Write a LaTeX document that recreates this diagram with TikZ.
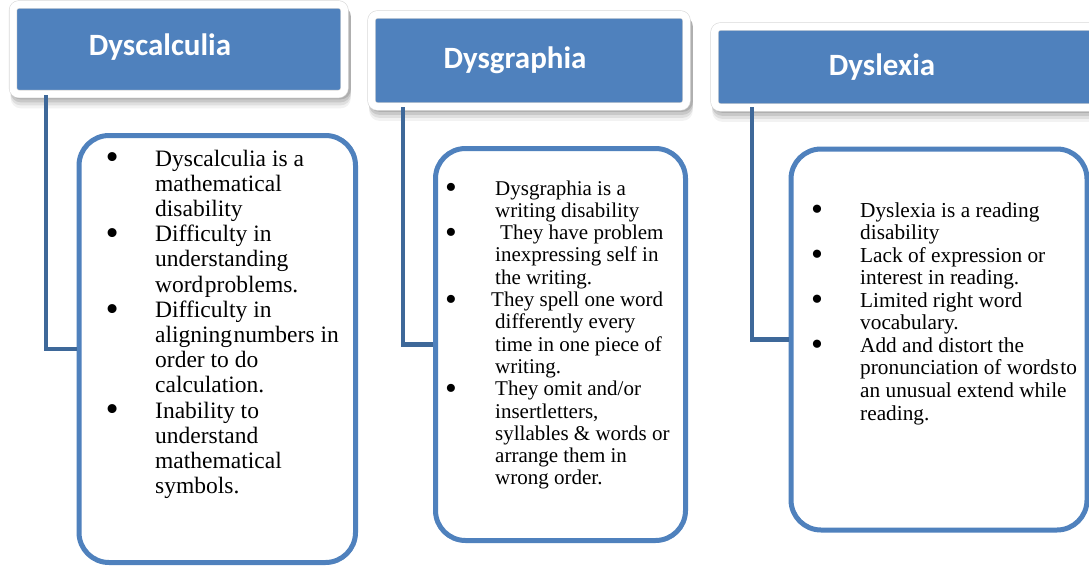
\documentclass[tikz,border=0pt]{standalone}
\usepackage{fontspec}
\setmainfont{Liberation Serif}
\newfontfamily\hdfont{Carlito}
\usetikzlibrary{calc}
\definecolor{hblue}{HTML}{4F81BD}
\definecolor{bblue}{HTML}{4F81BD}
\definecolor{cblue}{HTML}{3E6899}
\newcommand\mybul[1]{\makebox[#1][l]{\hspace{-2.5pt}\raisebox{-0.17em}{\scalebox{1.6}{•}}}}
\pgfdeclarelayer{bgfill}
\pgfdeclarelayer{shadowlayer}
\pgfsetlayers{bgfill,shadowlayer,main}
\begin{document}
\begin{tikzpicture}[x=1pt,y=-1pt,
 hdr/.style={fill=hblue, draw=black!15, line width=0.6pt, double=white, double distance=7pt,
   rounded corners=6pt, inner sep=0pt},
 shd/.style={fill=black, opacity=#1, rounded corners=10pt},
 htext/.style={text=white, font=\hdfont\bfseries\fontsize{31}{36}\selectfont, anchor=base, inner sep=0pt},
 ibox/.style={draw=bblue, line width=5pt, fill=white, rounded corners=30pt, inner sep=0pt},
 conn/.style={draw=cblue, line width=4.5pt},
 ltext/.style={anchor=base west, inner sep=0pt}]
\useasboundingbox (0,0) rectangle (1089,565);
\clip (0,0) rectangle (1089,565);
\begin{pgfonlayer}{bgfill}
\fill[white] (0,0) rectangle (1089,565);
\end{pgfonlayer}

% headers
\node[hdr, minimum width=331.5pt, minimum height=89.5pt] (h1) at (178.75,49.25) {};
\node[hdr, minimum width=315pt, minimum height=92pt] (h2) at (529,60.5) {};
\node[hdr, minimum width=390.5pt, minimum height=81pt] (h3) at (909.75,67) {};
\node[htext] (t1) at (160,55) {Dyscalculia};
\node[htext] (t2) at (515,68) {Dysgraphia};
\node[htext] (t3) at (882,75) {Dyslexia};

% soft shadows under the header frames
\begin{pgfonlayer}{shadowlayer}
\foreach \h in {h1,h2,h3}{
  \foreach \k/\o in {5/0.12,8/0.10,11/0.08,14/0.05}{
    \fill[shd=\o] ($(\h.north west)+(-2,2)$) rectangle ($(\h.south east)+(6,\k)$);
  }
}
\end{pgfonlayer}

% content boxes
\node[ibox, minimum width=276.5pt, minimum height=427pt] (b1) at (217.25,349) {};
\node[ibox, minimum width=250pt, minimum height=392pt] (b2) at (560.5,344.5) {};
\node[ibox, minimum width=296pt, minimum height=381pt] (b3) at (939,339.5) {};

% connectors
\coordinate (c1) at (46,95);
\coordinate (c2) at (403,107);
\coordinate (c3) at (752,107);
\draw[conn] (c1) |- (b1.west);
\draw[conn] (c2) |- (b2.west);
\draw[conn] (c3) |- (b3.west);

% texts
\node[ltext, font=\fontsize{23.5}{25.2}\selectfont] (x1) at (108,166) {%
\begin{tabular}[t]{@{}l@{}l@{}}
\mybul{47pt} & Dyscalculia is a\\
 & mathematical\\
 & disability\\
\mybul{47pt} & Difficulty in\\
 & understanding\\
 & word\hspace{1.5pt}problems.\\
\mybul{47pt} & Difficulty in\\
 & aligning\hspace{1.5pt}numbers in\\
 & order to do\\
 & calculation.\\
\mybul{47pt} & Inability to\\
 & understand\\
 & mathematical\\
 & symbols.
\end{tabular}};

\node[ltext, font=\fontsize{21}{22.3}\selectfont] (x2) at (447.3,195) {%
\begin{tabular}[t]{@{}l@{}l@{}}
\mybul{47.7pt} & Dysgraphia is a\\
 & writing disability\\
\mybul{47.7pt} & \hspace{5pt}They have problem\\
 & inexpressing self in\\
 & the writing.\\
\mybul{47.7pt} & \hspace{-4pt}They spell one word\\
 & differently every\\
 & time in one piece of\\
 & writing.\\
\mybul{47.7pt} & They omit and/or\\
 & insertletters,\\
 & syllables \& words or\\
 & arrange them in\\
 & wrong order.
\end{tabular}};

\node[ltext, font=\fontsize{21.3}{22.56}\selectfont] (x3) at (813.3,217) {%
\begin{tabular}[t]{@{}l@{}l@{}}
\mybul{46.7pt} & Dyslexia is a reading\\
 & disability\\
\mybul{46.7pt} & Lack of expression or\\
 & interest in reading.\\
\mybul{46.7pt} & Limited right word\\
 & vocabulary.\\
\mybul{46.7pt} & Add and distort the\\
 & pronunciation of words\hspace{1.5pt}to\\
 & an unusual extend while\\
 & reading.
\end{tabular}};
\end{tikzpicture}
\end{document}
